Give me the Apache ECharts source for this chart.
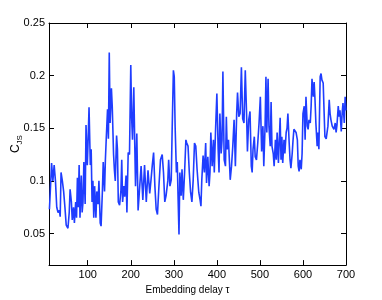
<!DOCTYPE html>
<html>
<head>
<meta charset="utf-8">
<script src="https://cdn.jsdelivr.net/npm/echarts@6/dist/echarts.min.js"></script>
<style>html,body{margin:0;padding:0;background:#fff}#c{width:382px;height:300px}</style>
</head>
<body>
<div id="c"></div>
<script>
var tau = [11,13,16,19,22,25,28,31,34,36,38,41,44,47,50,54,57,59,62,64,67,69,72,74,76,78,80,82,85,87,89,91,94,96,99,101,103,106,108,110,112,114,116,119,121,124,126,129,131,134,136,139,141,143,146,148,150,152,155,157,160,162,164,167,169,171,174,177,179,181,184,186,189,191,194,197,200,202,204,207,209,211,214,217,220,224,228,232,236,240,244,247,250,253,256,259,262,265,269,273,276,279,282,286,288,291,294,296,299,301,303,306,308,310,312,314,317,319,322,325,328,330,333,336,339,342,345,348,351,354,358,361,363,365,368,371,374,376,379,382,384,386,389,392,394,397,400,403,405,407,410,412,414,417,420,422,424,427,431,434,437,440,443,446,448,451,454,457,460,463,466,469,471,474,477,480,482,484,487,489,492,495,498,501,504,507,509,512,514,516,519,521,524,526,528,531,533,536,538,540,543,547,549,551,553,556,558,561,563,565,568,570,572,575,577,579,582,584,587,589,591,593,596,598,600,603,605,607,610,612,614,617,619,621,624,626,628,630,633,635,637,640,642,644,647,649,651,654,656,658,661,663,665,668,670,672,675,677,679,682,684,686,689,691,693,696,698,700];
var cjs = [0.073,0.09,0.117,0.100,0.115,0.100,0.075,0.070,0.072,0.066,0.108,0.100,0.090,0.075,0.058,0.055,0.070,0.092,0.080,0.063,0.075,0.060,0.080,0.065,0.103,0.075,0.115,0.065,0.105,0.070,0.080,0.118,0.078,0.153,0.115,0.140,0.170,0.115,0.130,0.080,0.100,0.065,0.095,0.065,0.090,0.078,0.100,0.060,0.057,0.090,0.118,0.090,0.120,0.140,0.168,0.140,0.222,0.155,0.188,0.170,0.125,0.110,0.100,0.143,0.130,0.080,0.077,0.090,0.120,0.080,0.095,0.085,0.105,0.070,0.127,0.125,0.210,0.160,0.139,0.189,0.140,0.095,0.145,0.072,0.090,0.114,0.082,0.115,0.080,0.110,0.088,0.101,0.115,0.127,0.095,0.073,0.068,0.092,0.120,0.125,0.108,0.080,0.086,0.100,0.120,0.095,0.101,0.146,0.205,0.199,0.152,0.108,0.118,0.082,0.049,0.108,0.086,0.111,0.082,0.108,0.139,0.136,0.133,0.108,0.089,0.080,0.101,0.136,0.133,0.111,0.089,0.082,0.076,0.101,0.124,0.108,0.136,0.098,0.123,0.095,0.108,0.146,0.114,0.139,0.108,0.149,0.183,0.130,0.108,0.164,0.126,0.139,0.204,0.120,0.114,0.161,0.130,0.139,0.101,0.114,0.133,0.158,0.114,0.164,0.184,0.161,0.164,0.208,0.159,0.155,0.205,0.164,0.128,0.158,0.166,0.114,0.108,0.130,0.142,0.123,0.120,0.136,0.155,0.180,0.128,0.152,0.114,0.152,0.199,0.146,0.197,0.152,0.133,0.175,0.133,0.126,0.114,0.139,0.120,0.146,0.117,0.160,0.120,0.142,0.117,0.139,0.126,0.146,0.150,0.164,0.136,0.120,0.112,0.126,0.139,0.149,0.148,0.146,0.139,0.114,0.109,0.120,0.111,0.126,0.164,0.171,0.139,0.180,0.152,0.149,0.158,0.155,0.171,0.197,0.180,0.194,0.177,0.155,0.133,0.146,0.130,0.199,0.202,0.196,0.193,0.167,0.142,0.140,0.146,0.152,0.177,0.164,0.158,0.152,0.153,0.149,0.155,0.146,0.153,0.171,0.161,0.167,0.147,0.164,0.174,0.155,0.180,0.167];
var xTicks = [100,200,300,400,500,600,700];
var yTicks = [0.05,0.1,0.15,0.2,0.25];

var font = 'Liberation Sans, Arial, Helvetica, sans-serif';
var data = tau.map(function(t,i){return [t,cjs[i]];});
var axisLine = {show:true, lineStyle:{color:'#000', width:1}};
var tick = {show:true, inside:true, length:5, lineStyle:{color:'#000'}};
var chart = echarts.init(document.getElementById('c'));
chart.setOption({
  animation:false,
  grid:{left:49, right:36, top:23, bottom:33},
  xAxis:[{
    type:'value', min:10, max:700, position:'bottom',
    axisLine:axisLine,
    axisTick:Object.assign({customValues:xTicks}, tick),
    axisLabel:{customValues:xTicks, color:'#000', fontSize:11, fontFamily:font, margin:4},
    splitLine:{show:false},
    name:'Embedding delay \u03c4', nameLocation:'middle', nameGap:19,
    nameTextStyle:{color:'#000', fontSize:10, fontFamily:font, padding:[0,20,0,0]}
  },{
    type:'value', min:10, max:700, position:'top',
    axisLine:axisLine,
    axisTick:Object.assign({customValues:xTicks}, tick),
    axisLabel:{show:false}, splitLine:{show:false}
  }],
  yAxis:[{
    type:'value', min:0.02, max:0.25, position:'left',
    axisLine:axisLine,
    axisTick:Object.assign({customValues:yTicks}, tick),
    axisLabel:{customValues:yTicks, color:'#000', fontSize:11, fontFamily:font, margin:4},
    splitLine:{show:false},
    name:'{c|C}{s|JS}', nameLocation:'middle', nameGap:25, nameMoveOverlap:false,
    nameTextStyle:{
      color:'#000', fontFamily:font,
      rich:{
        c:{fontSize:12, fontFamily:font, color:'#000'},
        s:{fontSize:8, fontFamily:font, color:'#000', padding:[8,0,0,0]}
      }
    }
  },{
    type:'value', min:0.02, max:0.25, position:'right',
    axisLine:axisLine,
    axisTick:Object.assign({customValues:yTicks}, tick),
    axisLabel:{show:false}, splitLine:{show:false}
  }],
  series:[{
    type:'line', data:data, showSymbol:false, symbol:'none',
    lineStyle:{color:'#1f3dff', width:1.6},
    xAxisIndex:0, yAxisIndex:0
  }]
});
</script>
</body>
</html>
